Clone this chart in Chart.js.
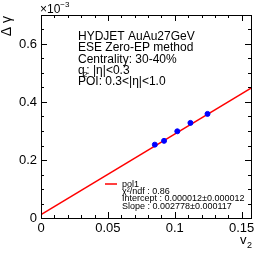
<!DOCTYPE html>
<html>
<head>
<meta charset="utf-8">
<script src="https://cdn.jsdelivr.net/npm/chart.js"></script>
<style>
  html, body { margin: 0; padding: 0; background: #fff; }
  canvas { display: block; }
</style>
</head>
<body>
<canvas id="dgChart" width="262" height="256"></canvas>
<script>
    // data (y in units of 1e-3)
    const v2 = [0.0851, 0.0920, 0.1019, 0.1117, 0.1245];
    const dGamma = [0.253, 0.266, 0.299, 0.328, 0.359];
    const fitX = [0, 0.157];
    const fitY = [0.012, 0.448];
    const xTicks = [0, 0.05, 0.1, 0.15];
    const yTicks = [0, 0.2, 0.4, 0.6];
    const infoLines = ['HYDJET AuAu27GeV', 'ESE Zero-EP method', 'Centrality: 30-40%', 'q2', 'POI: 0.3<|\u03b7|<1.0'];
    const legendLines = ['pol1', '\u03c7\u00b2/ndf : 0.86', 'Intercept : 0.000012\u00b10.000012', 'Slope : 0.002778\u00b10.000117'];

    const FONT = '"Liberation Sans", Arial, Helvetica, sans-serif';

    const rootFrame = {
        id: 'rootFrame',
        afterDraw(chart) {
            const c = chart.ctx;
            const a = chart.chartArea;
            const xs = chart.scales.x, ys = chart.scales.y;
            c.save();
            c.strokeStyle = '#000';
            c.lineWidth = 1;
            c.strokeRect(Math.round(a.left) + 0.5, Math.round(a.top) + 0.5,
                Math.round(a.right - a.left), Math.round(a.bottom - a.top));

            c.beginPath();
            // x ticks: major every 0.05, minor every 0.01
            for (let i = 0; i <= 15; i++) {
                const px = Math.round(xs.getPixelForValue(i * 0.01)) + 0.5;
                const len = (i % 5 === 0) ? 6 : 3;
                c.moveTo(px, a.bottom); c.lineTo(px, a.bottom - len);
                c.moveTo(px, a.top); c.lineTo(px, a.top + len);
            }
            // y ticks: major every 0.2, minor every 0.05
            for (let i = 0; i <= 14; i++) {
                const py = Math.round(ys.getPixelForValue(i * 0.05)) + 0.5;
                const len = (i % 4 === 0) ? 6 : 3;
                c.moveTo(a.left, py); c.lineTo(a.left + len, py);
                c.moveTo(a.right, py); c.lineTo(a.right - len, py);
            }
            c.stroke();

            c.fillStyle = '#000';
            // exponent label
            c.textBaseline = 'alphabetic';
            c.textAlign = 'left';
            c.font = '12px ' + FONT;
            c.fillText('\u00d710', a.left - 1, 13);
            const w10 = c.measureText('\u00d710').width;
            c.font = '8px ' + FONT;
            c.fillText('\u22123', a.left - 1 + w10, 7);

            // y title
            c.save();
            c.translate(11, a.top + 1);
            c.rotate(-Math.PI / 2);
            c.textAlign = 'right';
            c.font = '14px ' + FONT;
            c.fillText('\u0394 \u03b3', 0, 0);
            c.restore();

            // x title
            c.font = '13px ' + FONT;
            c.textAlign = 'left';
            c.fillText('v', 240, 244);
            c.font = '9px ' + FONT;
            c.fillText('2', 247, 248);

            // info text
            c.font = '12px ' + FONT;
            let y0 = 40;
            infoLines.forEach((t, i) => {
                const yy = y0 + i * 11.3;
                if (t === 'q2') {
                    c.font = '12px ' + FONT;
                    c.fillText('q', 78, yy);
                    c.font = '8px ' + FONT;
                    c.fillText('2', 83, yy + 3);
                    c.font = '12px ' + FONT;
                    c.fillText(' : |\u03b7|<0.3', 83, yy);
                } else {
                    c.fillText(t, 78, yy);
                }
            });

            // fit legend
            c.strokeStyle = '#ff0000';
            c.lineWidth = 1.5;
            c.beginPath();
            c.moveTo(105, 184); c.lineTo(117, 184);
            c.stroke();
            c.font = '9px ' + FONT;
            legendLines.forEach((t, i) => {
                c.fillText(t, 122, 187 + i * 7.2);
            });
            c.restore();
        }
    };

    const ctx = document.getElementById('dgChart').getContext('2d');
    const dgChart = new Chart(ctx, {
        type: 'scatter',
        data: {
            datasets: [{
                label: 'data',
                data: v2.map((x, i) => ({ x: x, y: dGamma[i] })),
                backgroundColor: '#0000ff',
                borderColor: '#0000ff',
                pointRadius: 2.5,
                order: 0
            }, {
                label: 'pol1',
                data: fitX.map((x, i) => ({ x: x, y: fitY[i] })),
                showLine: true,
                borderColor: '#ff0000',
                borderWidth: 1.5,
                pointRadius: 0,
                order: 1
            }]
        },
        options: {
            responsive: false,
            animation: false,
            devicePixelRatio: 1,
            layout: { padding: { top: 15, right: 11, left: 0, bottom: 0 } },
            plugins: { legend: { display: false }, tooltip: { enabled: false } },
            scales: {
                x: {
                    type: 'linear', min: 0, max: 0.157,
                    afterBuildTicks: s => { s.ticks = xTicks.map(v => ({ value: v })); },
                    afterFit: s => { s.height = 38; },
                    grid: { display: false, drawTicks: false },
                    border: { display: false },
                    ticks: {
                        autoSkip: false, maxRotation: 0, padding: 3,
                        color: '#000', font: { family: FONT, size: 13 },
                        callback: v => String(v)
                    }
                },
                y: {
                    type: 'linear', min: 0, max: 0.7,
                    afterBuildTicks: s => { s.ticks = yTicks.map(v => ({ value: v })); },
                    afterFit: s => { s.width = 41; },
                    grid: { display: false, drawTicks: false },
                    border: { display: false },
                    ticks: {
                        autoSkip: false, padding: 4,
                        color: '#000', font: { family: FONT, size: 13 },
                        callback: v => String(v)
                    }
                }
            }
        },
        plugins: [rootFrame]
    });
</script>
</body>
</html>
